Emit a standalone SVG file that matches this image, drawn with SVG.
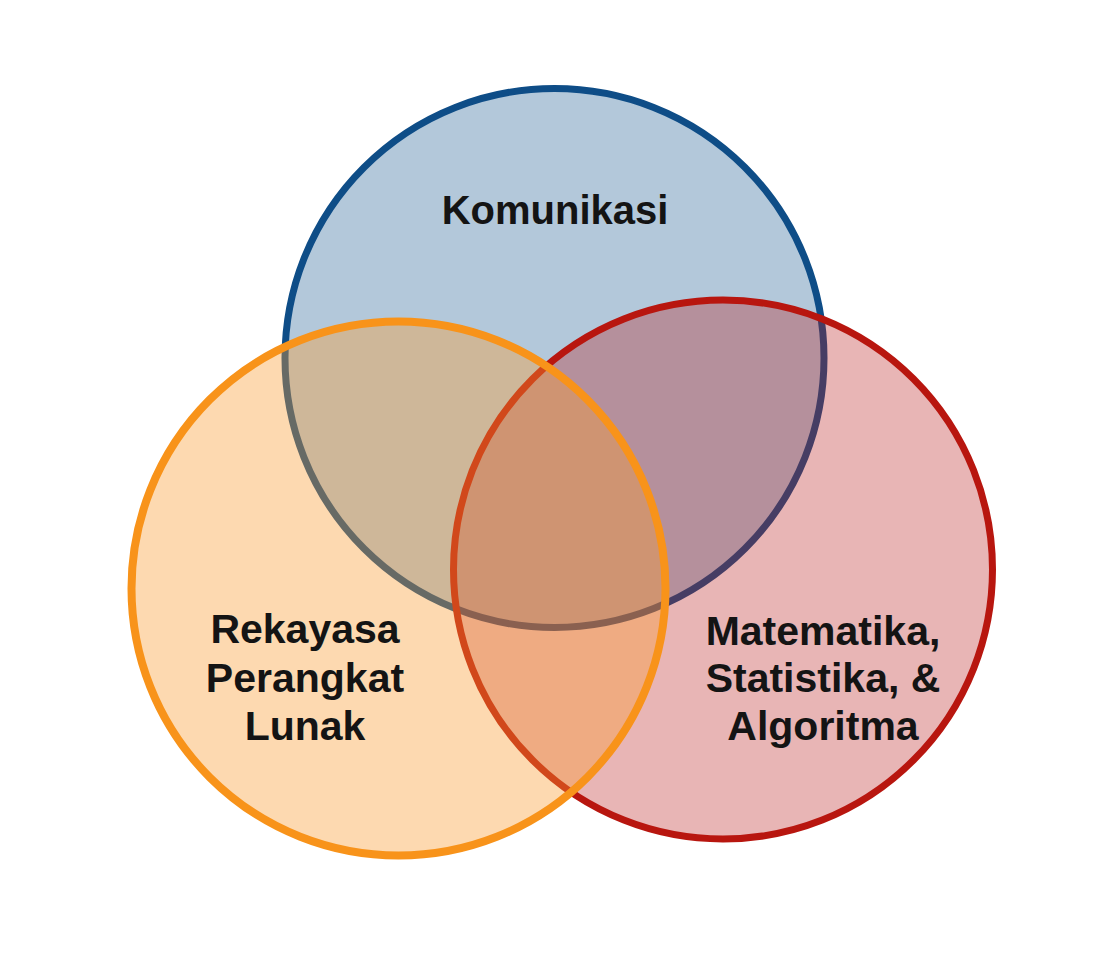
<svg xmlns="http://www.w3.org/2000/svg" width="1120" height="955" viewBox="0 0 1120 955">
<style>
.lbl{font-family:"Liberation Sans",Arial,Helvetica,sans-serif;font-weight:bold;fill:#141414;text-anchor:middle}
</style>
<rect width="1120" height="955" fill="#ffffff"/>
<g id="komunikasi">
<circle cx="554.5" cy="358" r="269.5" fill="#b3c8da" stroke="#0e4d87" stroke-width="7"/>
<text class="lbl" x="555" y="224" font-size="40">Komunikasi</text>
</g>
<g id="matematika">
<circle cx="723" cy="569.5" r="269.5" fill="#b91e1e" fill-opacity="0.33" stroke="#b8160f" stroke-width="7"/>
<text class="lbl" font-size="41"><tspan x="823" y="645">Matematika,</tspan><tspan x="823" y="692">Statistika, &amp;</tspan><tspan x="823" y="740">Algoritma</tspan></text>
</g>
<g id="rekayasa">
<circle cx="398.5" cy="588.5" r="267" fill="#fa9b2f" fill-opacity="0.38" stroke="#f8931a" stroke-width="8"/>
<text class="lbl" font-size="41"><tspan x="305" y="643">Rekayasa</tspan><tspan x="305" y="692">Perangkat</tspan><tspan x="305" y="740">Lunak</tspan></text>
</g>
<g id="connectors"/>
</svg>
